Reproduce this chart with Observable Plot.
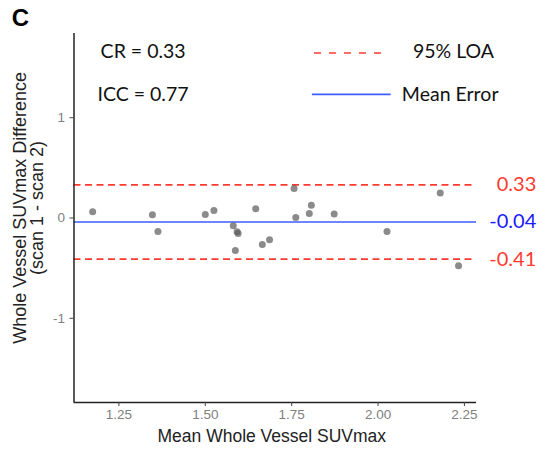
<!DOCTYPE html>
<html>
<head>
<meta charset="utf-8">
<script src="https://cdn.jsdelivr.net/npm/d3@7"></script>
<script src="https://cdn.jsdelivr.net/npm/@observablehq/plot@0.6"></script>
<style>
  html, body { margin: 0; padding: 0; background: #fff; }
</style>
</head>
<body>
<div id="chart"></div>
<script>
// Data
const meanSUV = [1.174, 1.347, 1.363, 1.500, 1.525, 1.581, 1.592, 1.595, 1.587, 1.646, 1.665, 1.686, 1.757, 1.762, 1.801, 1.807, 1.873, 2.026, 2.180, 2.233];
const diffSUV = [0.063, 0.033, -0.134, 0.036, 0.076, -0.077, -0.137, -0.154, -0.324, 0.093, -0.264, -0.217, 0.293, 0.006, 0.046, 0.128, 0.040, -0.134, 0.250, -0.477];
const upperLOA = 0.33;
const meanError = -0.04;
const lowerLOA = -0.41;
const xTicks = [1.25, 1.50, 1.75, 2.00, 2.25];
const yTicks = [-1, 0, 1];
const xDomain = [1.12, 2.285];
const yDomain = [-1.84, 1.84];
const statLabels = ["CR = 0.33", "ICC = 0.77"];
const legendLabels = ["95% LOA", "Mean Error"];
const lineLabels = ["0.33", "-0.04", "-0.41"];

const points = meanSUV.map((m, i) => ({x: m, y: diffSUV[i]}));

const RED = "#ff3b30";
const BLUE = "#3f5cff";
const TXT = "Lato, 'Open Sans', sans-serif";

const chart = Plot.plot({
  width: 541,
  height: 449,
  marginLeft: 73.5,
  marginRight: 65,
  marginTop: 33,
  marginBottom: 47,
  style: {fontFamily: "'Liberation Sans', Arial, sans-serif", background: "#fff", overflow: "visible"},
  x: {domain: xDomain},
  y: {domain: yDomain},
  marks: [
    // limits of agreement and mean
    Plot.ruleY([upperLOA, lowerLOA], {stroke: RED, strokeWidth: 1.6, strokeDasharray: "7,4.5"}),
    Plot.ruleY([meanError], {stroke: BLUE, strokeWidth: 1.5}),
    // points
    Plot.dot(points, {x: "x", y: "y", r: 3.5, fill: "#5a5a5a", fillOpacity: 0.7, stroke: "none"}),
    // axes
    Plot.ruleX([xDomain[0]], {stroke: "#222", strokeWidth: 1.5}),
    Plot.ruleY([yDomain[0]], {stroke: "#222", strokeWidth: 1.5}),
    Plot.axisX(xTicks, {tickSize: 4, tickPadding: 3, tickFormat: d3.format(".2f"), fontSize: 13.5, fill: "#808080", stroke: "#444", label: null}),
    Plot.axisY(yTicks, {tickSize: 4, tickPadding: 5, tickFormat: d => d < 0 ? "-" + Math.abs(d) : String(d), fontSize: 13.5, fill: "#808080", stroke: "#444", label: null}),
    // axis titles
    Plot.text(["Mean Whole Vessel SUVmax"], {x: [(xDomain[0] + xDomain[1]) / 2 - 0.01], y: [yDomain[0]], dy: 34, fontSize: 17.5, fill: "#222", text: d => d}),
    Plot.text(["Whole Vessel SUVmax Difference\n(scan 1 - scan 2)"], {x: [0.99], y: [0.10], rotate: -90, fontSize: 18, lineHeight: 0.95, fill: "#222", text: d => d}),
    // panel letter
    Plot.text(["C"], {x: [0.965], y: [1.99], fontSize: 24, fontWeight: "bold", fill: "#000", text: d => d}),
    // stats
    Plot.text(statLabels, {x: [1.197, 1.188], y: [1.655, 1.225], textAnchor: "start", fontSize: 19.5, fontFamily: TXT, fill: "#111", text: d => d}),
    // legend
    Plot.ruleY([1.646], {x1: 1.816, x2: 2.024, stroke: RED, strokeWidth: 1.6, strokeDasharray: "7,8"}),
    Plot.ruleY([1.233], {x1: 1.810, x2: 2.038, stroke: BLUE, strokeWidth: 1.6}),
    Plot.text(legendLabels, {x: [2.101, 2.069], y: [1.655, 1.225], textAnchor: "start", fontSize: 19.5, fontFamily: TXT, fill: "#111", text: d => d}),
    // line value labels
    Plot.text(lineLabels, {x: [2.458, 2.458, 2.458], y: [upperLOA, meanError, lowerLOA], textAnchor: "end", fontSize: 20, fontFamily: TXT, fill: [RED, "#1a1aff", RED], text: d => d})
  ]
});
document.getElementById("chart").appendChild(chart);
</script>
</body>
</html>
